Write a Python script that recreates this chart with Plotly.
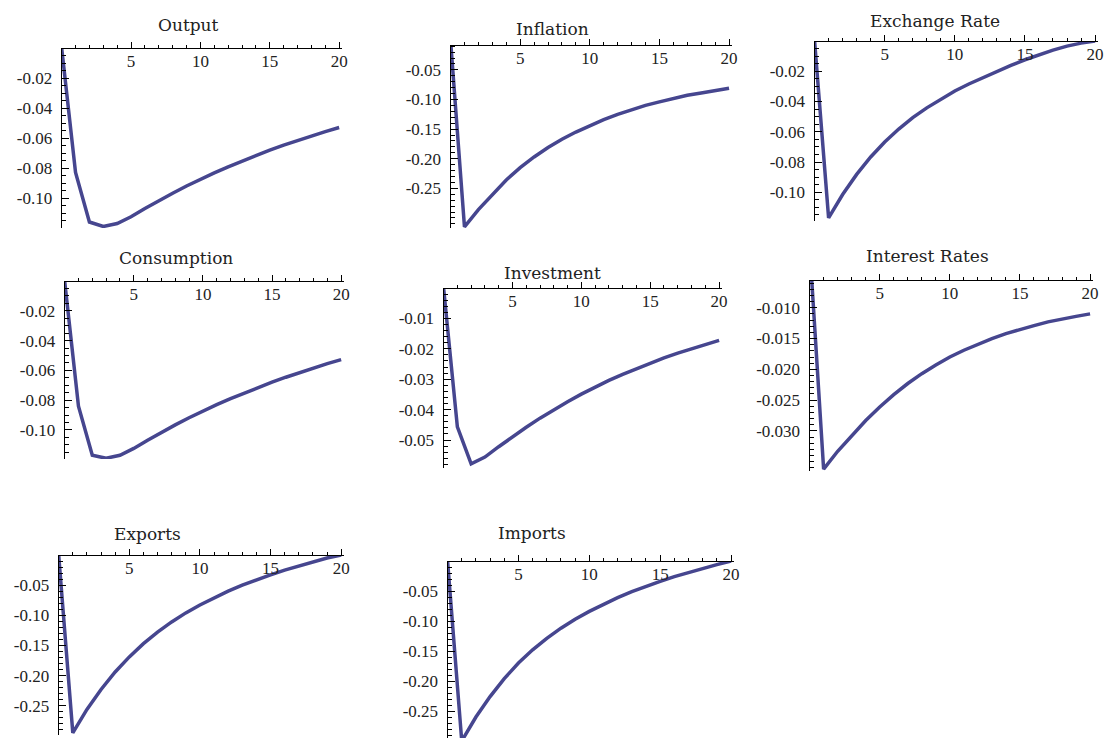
import plotly.graph_objects as go

# ---------------- data ----------------
periods = list(range(21))

output = [0.0, -0.083, -0.116, -0.119, -0.117, -0.1125, -0.1070, -0.1017, -0.0968, -0.0920,
          -0.0875, -0.0833, -0.0792, -0.0753, -0.0716, -0.0681, -0.0648, -0.0616, -0.0586, -0.0557, -0.0530]
inflation = [0.0, -0.315, -0.286, -0.260, -0.236, -0.215, -0.197, -0.181, -0.167, -0.155,
             -0.144, -0.134, -0.125, -0.117, -0.110, -0.104, -0.098, -0.093, -0.089, -0.085, -0.081]
exchange_rate = [0.0, -0.117, -0.1015, -0.0882, -0.0767, -0.0668, -0.0582, -0.0507, -0.0442, -0.0384,
                 -0.0330, -0.0284, -0.0241, -0.0200, -0.0161, -0.0124, -0.0090, -0.0060, -0.0034, -0.0014, 0.0]
consumption = [0.0, -0.084, -0.117, -0.119, -0.117, -0.1124, -0.1069, -0.1016, -0.0966, -0.0918,
               -0.0873, -0.0830, -0.0790, -0.0751, -0.0714, -0.0679, -0.0646, -0.0614, -0.0584, -0.0555, -0.0528]
investment = [0.0, -0.0457, -0.0578, -0.0556, -0.0522, -0.0489, -0.0458, -0.0428, -0.0400, -0.0374,
              -0.0349, -0.0326, -0.0304, -0.0284, -0.0265, -0.0247, -0.0230, -0.0214, -0.0199, -0.0185, -0.0172]
interest_rates = [0.0, -0.0362, -0.0333, -0.0307, -0.0283, -0.0261, -0.0241, -0.0223, -0.0207, -0.0193,
                  -0.0180, -0.0169, -0.0159, -0.0150, -0.0142, -0.0135, -0.0129, -0.0123, -0.0118, -0.0114, -0.0110]
exports = [0.0, -0.295, -0.256, -0.223, -0.194, -0.169, -0.147, -0.128, -0.111, -0.096,
           -0.083, -0.071, -0.060, -0.050, -0.041, -0.033, -0.025, -0.018, -0.011, -0.005, 0.0]
imports = [0.0, -0.300, -0.260, -0.226, -0.196, -0.170, -0.148, -0.129, -0.112, -0.097,
           -0.084, -0.072, -0.061, -0.051, -0.042, -0.034, -0.026, -0.019, -0.012, -0.006, 0.0]

titles = ["Output", "Inflation", "Exchange Rate", "Consumption", "Investment",
          "Interest Rates", "Exports", "Imports"]
series = [output, inflation, exchange_rate, consumption, investment,
          interest_rates, exports, imports]

x_tick_vals = [5, 10, 15, 20]
x_tick_text = ["5", "10", "15", "20"]

y_ticks_02 = [-0.10, -0.08, -0.06, -0.04, -0.02]
y_text_02 = ["-0.10", "-0.08", "-0.06", "-0.04", "-0.02"]
y_ticks_05 = [-0.25, -0.20, -0.15, -0.10, -0.05]
y_text_05 = ["-0.25", "-0.20", "-0.15", "-0.10", "-0.05"]
y_ticks_inv = [-0.05, -0.04, -0.03, -0.02, -0.01]
y_text_inv = ["-0.05", "-0.04", "-0.03", "-0.02", "-0.01"]
y_ticks_int = [-0.030, -0.025, -0.020, -0.015, -0.010]
y_text_int = ["-0.030", "-0.025", "-0.020", "-0.015", "-0.010"]

# ---------------- layout geometry (pixels) ----------------
W, H = 1112, 738
panels = [
    dict(x0=62, x20=341, top=48, bot=228, yr=(-0.1200, 0.0), yt=y_ticks_02, ytx=y_text_02, mdt=0.005, tc=(190, 25)),
    dict(x0=453, x20=733, top=45, bot=228, yr=(-0.3170, -0.008), yt=y_ticks_05, ytx=y_text_05, mdt=0.01, tc=(555, 29)),
    dict(x0=819, x20=1101, top=41, bot=221, yr=(-0.1190, 0.0), yt=y_ticks_02, ytx=y_text_02, mdt=0.005, tc=(940, 21)),
    dict(x0=65, x20=343, top=281, bot=459, yr=(-0.1195, 0.0), yt=y_ticks_02, ytx=y_text_02, mdt=0.005, tc=(177, 258)),
    dict(x0=446, x20=723, top=288, bot=468, yr=(-0.0592, 0.0), yt=y_ticks_inv, ytx=y_text_inv, mdt=0.002, tc=(555, 273)),
    dict(x0=814, x20=1096, top=280, bot=471, yr=(-0.0365, -0.0055), yt=y_ticks_int, ytx=y_text_int, mdt=0.001, tc=(933, 256)),
    dict(x0=59, x20=343, top=555, bot=735, yr=(-0.2985, 0.0), yt=y_ticks_05, ytx=y_text_05, mdt=0.01, tc=(148, 534)),
    dict(x0=450, x20=735, top=561, bot=738, yr=(-0.2950, 0.0), yt=y_ticks_05, ytx=y_text_05, mdt=0.01, tc=(535, 533)),
]

LINE_COLOR = "#46468f"
TICK_FONT = dict(family="Liberation Serif, Times New Roman, serif", size=17, color="#222222")
TITLE_FONT = dict(family="DejaVu Serif, serif", size=17, color="#222222")

fig = go.Figure()
layout = dict(
    width=W, height=H,
    margin=dict(l=0, r=0, t=0, b=0),
    paper_bgcolor="white", plot_bgcolor="white",
    showlegend=False,
    annotations=[],
)

XMAX = 20.2
for i, (p, ys, title) in enumerate(zip(panels, series, titles), start=1):
    suffix = "" if i == 1 else str(i)
    fig.add_trace(go.Scatter(
        x=periods, y=ys, mode="lines",
        line=dict(color=LINE_COLOR, width=3.5),
        xaxis="x" + suffix, yaxis="y" + suffix,
        hoverinfo="skip",
    ))
    ppu = (p["x20"] - p["x0"]) / 20.0
    xd = [p["x0"] / W, (p["x0"] + XMAX * ppu) / W]
    yd = [1 - p["bot"] / H, 1 - p["top"] / H]
    # x axis drawn along the top edge of the panel, labels below the line, ticks pointing up
    layout["xaxis" + suffix] = dict(
        domain=xd, range=[0, XMAX], anchor="free", position=yd[1], side="bottom",
        showline=True, linecolor="black", linewidth=1.2,
        showgrid=False, zeroline=False,
        tickmode="array", tickvals=x_tick_vals, ticktext=x_tick_text,
        ticks="inside", ticklen=6, tickwidth=1, tickcolor="black",
        tickfont=TICK_FONT, ticklabelstandoff=-3,
        minor=dict(ticks="inside", dtick=1, tick0=0, ticklen=3, tickcolor="black", tickwidth=1),
        fixedrange=True,
    )
    layout["yaxis" + suffix] = dict(
        domain=yd, range=list(p["yr"]), anchor="x" + suffix,
        showline=True, linecolor="black", linewidth=1.2,
        showgrid=False, zeroline=False,
        tickmode="array", tickvals=p["yt"], ticktext=p["ytx"],
        ticks="inside", ticklen=7, tickwidth=1, tickcolor="black",
        tickfont=TICK_FONT, ticklabelstandoff=5,
        minor=dict(ticks="inside", dtick=p["mdt"], tick0=0, ticklen=4, tickcolor="black", tickwidth=1),
        fixedrange=True,
    )
    layout["annotations"].append(dict(
        text=title, x=p["tc"][0] / W, y=1 - p["tc"][1] / H,
        xref="paper", yref="paper", xanchor="center", yanchor="middle",
        showarrow=False, font=TITLE_FONT,
    ))

fig.update_layout(**layout)
fig.write_html("out.html", config={"displayModeBar": False},
               post_script="document.body.style.margin='0px';")
